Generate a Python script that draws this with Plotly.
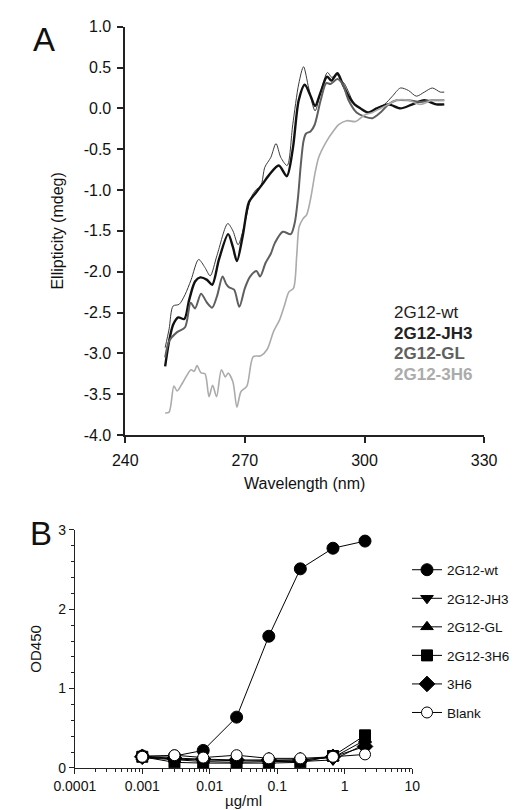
import plotly.graph_objects as go

# ---------------- Panel A data (CD spectra) ----------------
wt_nm = [250, 251, 252, 253.5, 255, 256.5, 258.4, 260, 261.3, 263, 265.7, 267, 268.3, 270, 271.5,
         272.7, 274, 275, 276.5, 277.8, 279, 280.6, 282, 283.5, 284.7, 286, 287.6, 289, 290.7,
         291.8, 293, 294, 295, 296, 297.5, 299, 301, 303, 305, 307, 309, 311, 313, 315, 317, 319, 320]
wt_val = [-2.93, -2.7, -2.42, -2.40, -2.28, -2.1, -1.85, -1.95, -2.05, -1.8, -1.41, -1.5, -1.67, -1.4, -1.1,
          -1.0, -0.95, -0.72, -0.6, -0.43, -0.6, -0.70, -0.2, 0.3, 0.51, 0.25, -0.03, 0.2, 0.44,
          0.38, 0.42, 0.35, 0.3, 0.2, 0.05, 0.0, -0.05, 0.0, 0.05, 0.15, 0.25, 0.22, 0.15, 0.2, 0.25, 0.2, 0.2]

jh3_nm = [250, 251, 252, 253.3, 254.8, 256, 257.5, 258.8, 260.5, 261.8, 263.5, 265.8, 267, 268, 269.5,
          271, 272.8, 274.5, 276, 278.5, 280.5, 282, 283.5, 285, 286.5, 287.6, 289, 290.6, 291.7,
          293.2, 294.5, 296, 297.5, 299, 301, 303, 306, 309, 312, 315, 318, 320]
jh3_val = [-3.16, -2.85, -2.65, -2.56, -2.58, -2.35, -2.12, -2.07, -2.1, -2.16, -1.85, -1.54, -1.7, -1.87, -1.55,
           -1.15, -1.03, -0.92, -0.82, -0.70, -0.83, -0.5, 0.1, 0.29, 0.15, 0.03, 0.2, 0.39, 0.34,
           0.43, 0.3, 0.15, 0.05, 0.0, -0.05, 0.0, 0.05, 0.0, 0.05, 0.1, 0.05, 0.05]

gl_nm = [250, 251, 253, 255, 256.4, 257.5, 259, 260.5, 261.8, 263, 264.4, 265.3, 266, 267.3, 268.6,
         270, 271.3, 272.9, 273.8, 275.2, 276.5, 277.5, 279.5, 281.5, 282.5, 283.3, 284, 284.7, 285.3,
         286.5, 287.5, 289, 290.4, 291.5, 293.2, 294.5, 296, 298, 300, 302, 304, 306, 308, 311, 314, 317, 320]
gl_val = [-3.05, -2.85, -2.74, -2.68, -2.38, -2.45, -2.27, -2.38, -2.44, -2.3, -2.06, -2.15, -2.19, -2.22, -2.43,
          -2.2, -2.06, -1.99, -2.06, -1.89, -1.78, -1.65, -1.51, -1.54, -1.4, -1.1, -0.7, -0.4, -0.31,
          -0.28, -0.2, 0.1, 0.31, 0.3, 0.36, 0.3, 0.1, -0.05, -0.1, -0.12, -0.05, 0.05, 0.1, 0.1, 0.08, 0.1, 0.1]

h6_nm = [250, 251, 252.2, 253, 254.5, 256.5, 257.3, 258, 259, 260, 261, 261.9, 262.9, 264.1, 265.1,
         265.8, 267, 268, 269, 270.5, 272.1, 274, 275.6, 277.2, 278.7, 280, 281, 282.2, 283, 283.6,
         284.6, 285.5, 286.5, 287.6, 288.5, 290.5, 292.3, 293.5, 295.5, 297.8, 300, 302, 304, 306, 308,
         311, 314, 317, 320]
h6_val = [-3.73, -3.72, -3.40, -3.46, -3.35, -3.2, -3.22, -3.15, -3.24, -3.25, -3.53, -3.39, -3.53, -3.2, -3.29,
          -3.24, -3.35, -3.66, -3.47, -3.40, -3.04, -3.03, -2.95, -2.73, -2.59, -2.4, -2.25, -2.2, -1.8, -1.45,
          -1.35, -1.3, -1.1, -0.79, -0.6, -0.4, -0.27, -0.2, -0.15, -0.16, -0.08, -0.05, 0.0, 0.05, 0.1,
          0.1, 0.05, 0.1, 0.1]

a_names = ["2G12-wt", "2G12-JH3", "2G12-GL", "2G12-3H6"]
a_yticks = [1.0, 0.5, 0.0, -0.5, -1.0, -1.5, -2.0, -2.5, -3.0, -3.5, -4.0]
a_yticktext = ["1.0", "0.5", "0.0", "-0.5", "-1.0", "-1.5", "-2.0", "-2.5", "-3.0", "-3.5", "-4.0"]
a_xticks = [240, 270, 300, 330]

# ---------------- Panel B data (ELISA) ----------------
conc = [0.001, 0.003, 0.008, 0.025, 0.075, 0.22, 0.67, 2]
b_names = ["2G12-wt", "2G12-JH3", "2G12-GL", "2G12-3H6", "3H6", "Blank"]
od_wt = [0.15, 0.15, 0.22, 0.64, 1.66, 2.51, 2.77, 2.86]
od_jh3 = [0.13, 0.10, 0.08, 0.07, 0.08, 0.08, 0.10, 0.30]
od_gl = [0.14, 0.11, 0.10, 0.09, 0.09, 0.10, 0.13, 0.35]
od_3h6g = [0.14, 0.07, 0.06, 0.06, 0.06, 0.07, 0.15, 0.41]
od_3h6 = [0.14, 0.12, 0.11, 0.10, 0.10, 0.10, 0.14, 0.27]
od_blank = [0.14, 0.16, 0.13, 0.16, 0.12, 0.12, 0.14, 0.17]
b_xticks = [0.0001, 0.001, 0.01, 0.1, 1, 10]
b_xticktext = ["0.0001", "0.001", "0.01", "0.1", "1", "10"]

W, H = 520, 810
def px(x):
    return x / W
def py(y):
    return 1 - y / H

FONT = "Liberation Sans, Arial, sans-serif"
fig = go.Figure()

a_styles = [
    dict(color="#3a3a3a", width=1.0),
    dict(color="#111111", width=2.4),
    dict(color="#5f5f5f", width=2.0),
    dict(color="#ababab", width=1.6),
]
for xs, ys, nm, st in zip([wt_nm, jh3_nm, gl_nm, h6_nm], [wt_val, jh3_val, gl_val, h6_val], a_names, a_styles):
    fig.add_trace(go.Scatter(x=xs, y=ys, name=nm, mode="lines", line=dict(shape="spline", smoothing=0.8, **st),
                             xaxis="x", yaxis="y", showlegend=False))

b_series = [od_wt, od_jh3, od_gl, od_3h6g, od_3h6, od_blank]
b_symbols = ["circle", "triangle-down", "triangle-up", "square", "diamond", "circle"]
b_sizes = [12, 11, 11, 11, 12, 11]
for i, (ys, nm, sym, sz) in enumerate(zip(b_series, b_names, b_symbols, b_sizes)):
    fill = "white" if nm == "Blank" else "black"
    fig.add_trace(go.Scatter(
        x=conc, y=ys, name=nm, mode="lines+markers",
        line=dict(color="black", width=1),
        marker=dict(symbol=sym, size=sz, color=fill, line=dict(color="black", width=1)),
        xaxis="x2", yaxis="y2", legend="legend2", legendgroup=nm))

axis_common = dict(showline=True, linecolor="#222", ticks="outside", tickcolor="#222",
                   showgrid=False, zeroline=False, mirror=False)

fig.update_layout(
    width=W, height=H, margin=dict(l=0, r=0, t=0, b=0),
    paper_bgcolor="white", plot_bgcolor="white",
    font=dict(family=FONT, color="#111"),
    xaxis=dict(domain=[px(103), px(487)], range=[240, 330], tickvals=a_xticks, anchor="y",
               linewidth=1.6, ticklen=6, tickwidth=1.6, tickfont=dict(size=16), ticklabelstandoff=4,
               title=dict(text="Wavelength (nm)", font=dict(size=16), standoff=10), **axis_common),
    yaxis=dict(domain=[py(428), py(11)], range=[-4, 1], tickvals=a_yticks, ticktext=a_yticktext, anchor="x",
               linewidth=1.6, ticklen=6, tickwidth=1.6, tickfont=dict(size=16), ticklabelstandoff=3,
               title=dict(text="Ellipticity (mdeg)", font=dict(size=16), standoff=16), **axis_common),
    xaxis2=dict(domain=[px(49), px(410)], type="log", range=[-4, 1], tickvals=b_xticks, ticktext=b_xticktext,
                anchor="y2", linewidth=1, ticklen=5, tickwidth=1, tickfont=dict(size=14),
                minor=dict(ticks="outside", ticklen=3, tickcolor="#222", dtick="D1"),
                title=dict(text="µg/ml", font=dict(size=15), standoff=2), **axis_common),
    yaxis2=dict(domain=[py(768), py(525)], range=[0, 3], tickvals=[0, 1, 2, 3], anchor="x2",
                linewidth=1, ticklen=5, tickwidth=1, tickfont=dict(size=14),
                minor=dict(ticks="outside", ticklen=3, tickcolor="#222", dtick=0.2),
                title=dict(text="OD450", font=dict(size=15), standoff=12), **axis_common),
    legend2=dict(x=1.0, y=py(550), xanchor="right", yanchor="top", traceorder="grouped",
                 tracegroupgap=8, font=dict(size=13.5, family=FONT), bgcolor="rgba(0,0,0,0)",
                 itemwidth=30),
)

a_colors = ["#222222", "#222222", "#5f5f5f", "#ababab"]
a_weights = ["normal", "bold", "bold", "bold"]
a_ys = [302.7, 324, 345, 366]
for nm, c, wgt, yy in zip(a_names, a_colors, a_weights, a_ys):
    fig.add_annotation(x=px(388), y=py(yy), xref="paper", yref="paper", xanchor="left", yanchor="middle",
                       text=nm, showarrow=False, font=dict(size=17, color=c, family=FONT, weight=wgt))

fig.add_annotation(x=px(2), y=py(3), xref="paper", yref="paper", xanchor="left", yanchor="top",
                   text="A", showarrow=False, font=dict(size=33, color="#111", family=FONT))
fig.add_annotation(x=px(-1), y=py(508), xref="paper", yref="paper", xanchor="left", yanchor="top",
                   text="B", showarrow=False, font=dict(size=33, color="#111", family=FONT))

fig.write_html("out.html")
